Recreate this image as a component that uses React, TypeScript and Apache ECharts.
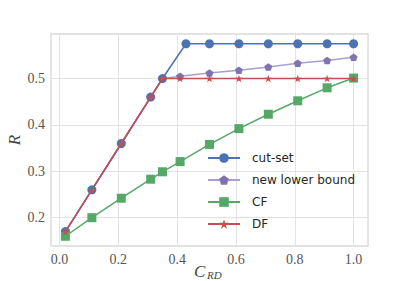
import React, { useEffect, useRef } from "react";
import * as echarts from "echarts";

const cutX = [0.02, 0.11, 0.21, 0.31, 0.35, 0.43, 0.51, 0.61, 0.71, 0.81, 0.91, 1.0];
const cutY = [0.17, 0.26, 0.36, 0.46, 0.5, 0.575, 0.575, 0.575, 0.575, 0.575, 0.575, 0.575];
const otherX = [0.02, 0.11, 0.21, 0.31, 0.35, 0.41, 0.51, 0.61, 0.71, 0.81, 0.91, 1.0];
const lowerY = [0.17, 0.26, 0.36, 0.46, 0.5, 0.505, 0.512, 0.518, 0.525, 0.533, 0.539, 0.546];
const cfY = [0.16, 0.2, 0.242, 0.283, 0.299, 0.321, 0.358, 0.392, 0.423, 0.452, 0.48, 0.501];
const dfY = [0.17, 0.26, 0.36, 0.46, 0.5, 0.5, 0.5, 0.5, 0.5, 0.5, 0.5, 0.5];
const seriesNames = ["cut-set", "new lower bound", "CF", "DF"];

const pentagon = "path://M0,-1 L0.951,-0.309 L0.588,0.809 L-0.588,0.809 L-0.951,-0.309 Z";
const star =
  "path://M0,-1 L0.2245,-0.309 L0.951,-0.309 L0.363,0.118 L0.588,0.809 L0,0.382 L-0.588,0.809 L-0.363,0.118 L-0.951,-0.309 L-0.2245,-0.309 Z";

const zip = (xs: number[], ys: number[]) => xs.map((x, i) => [x, ys[i]]);

export default function App() {
  const ref = useRef<HTMLDivElement>(null);
  useEffect(() => {
    if (!ref.current) return;
    const chart = echarts.init(ref.current, null, { renderer: "svg" });
    const tickFmt = (v: number) => {
      const r = Math.round(v * 10) / 10;
      return Math.abs(r - v) < 1e-6 ? r.toFixed(1) : "";
    };
    chart.setOption({
      animation: false,
      backgroundColor: "#ffffff",
      grid: {
        left: 51,
        top: 34,
        width: 317,
        height: 212,
        show: true,
        borderColor: "#d9d9d9",
        borderWidth: 1.3,
        backgroundColor: "#ffffff",
        outerBoundsMode: "none",
        containLabel: false,
      },
      graphic: [
        {
          type: "text",
          x: 194,
          y: 271,
          style: { text: "C", font: "italic 17px 'Liberation Serif'", fill: "#444444", verticalAlign: "middle", align: "left" },
        },
        {
          type: "text",
          x: 207,
          y: 274.5,
          style: { text: "RD", font: "italic 11px 'Liberation Serif'", fill: "#444444", verticalAlign: "middle", align: "left" },
        },
      ],
      xAxis: {
        type: "value",
        min: -0.029,
        max: 1.049,
        splitNumber: 5,
        axisLine: { show: false },
        axisTick: { show: false },
        axisLabel: {
          formatter: tickFmt,
          showMinLabel: false,
          showMaxLabel: false,
          color: "#555555",
          fontFamily: "Liberation Serif",
          fontSize: 14,
          margin: 6,
        },
        splitLine: { show: true, lineStyle: { color: "#e3e3e3", width: 1 } },
      },
      yAxis: {
        type: "value",
        min: 0.139,
        max: 0.596,
        splitNumber: 5,
        axisLine: { show: false },
        axisTick: { show: false },
        axisLabel: {
          formatter: tickFmt,
          showMinLabel: false,
          showMaxLabel: false,
          color: "#555555",
          fontFamily: "Liberation Serif",
          fontSize: 14,
          margin: 6,
        },
        splitLine: { show: true, lineStyle: { color: "#e3e3e3", width: 1 } },
        name: "R",
        nameLocation: "middle",
        nameRotate: 90,
        nameGap: 28,
        nameMoveOverlap: false,
        nameTextStyle: { fontFamily: "Liberation Serif", fontStyle: "italic", fontSize: 17, color: "#444444" },
      },
      legend: {
        data: seriesNames,
        orient: "vertical",
        left: 207,
        top: 151,
        padding: 0,
        itemWidth: 32,
        itemHeight: 12,
        itemGap: 8,
        textStyle: { fontFamily: "DejaVu Sans", fontSize: 12, color: "#262626", lineHeight: 14, padding: [0, 0, 0, 7] },
      },
      series: [
        {
          name: "new lower bound",
          type: "line",
          data: zip(otherX, lowerY),
          symbol: pentagon,
          symbolKeepAspect: true,
          symbolSize: 8,
          itemStyle: { color: "#8172b2" },
          lineStyle: { color: "#a99fd0", width: 1.6 },
          z: 2,
        },
        {
          name: "cut-set",
          type: "line",
          data: zip(cutX, cutY),
          symbol: "circle",
          symbolSize: 9,
          itemStyle: { color: "#4c72b0" },
          lineStyle: { color: "#4c72b0", width: 1.5 },
          z: 3,
        },
        {
          name: "CF",
          type: "line",
          data: zip(otherX, cfY),
          symbol: "rect",
          symbolSize: 9,
          itemStyle: { color: "#55a868" },
          lineStyle: { color: "#55a868", width: 1.5 },
          z: 4,
        },
        {
          name: "DF",
          type: "line",
          data: zip(otherX, dfY),
          symbol: star,
          symbolKeepAspect: true,
          symbolSize: 8,
          itemStyle: { color: "#c44e52" },
          lineStyle: { color: "#c44e52", width: 1.5 },
          z: 5,
        },
      ],
    });
    return () => chart.dispose();
  }, []);
  return <div ref={ref} style={{ position: "fixed", left: 0, top: 0, width: 409, height: 281 }} />;
}
